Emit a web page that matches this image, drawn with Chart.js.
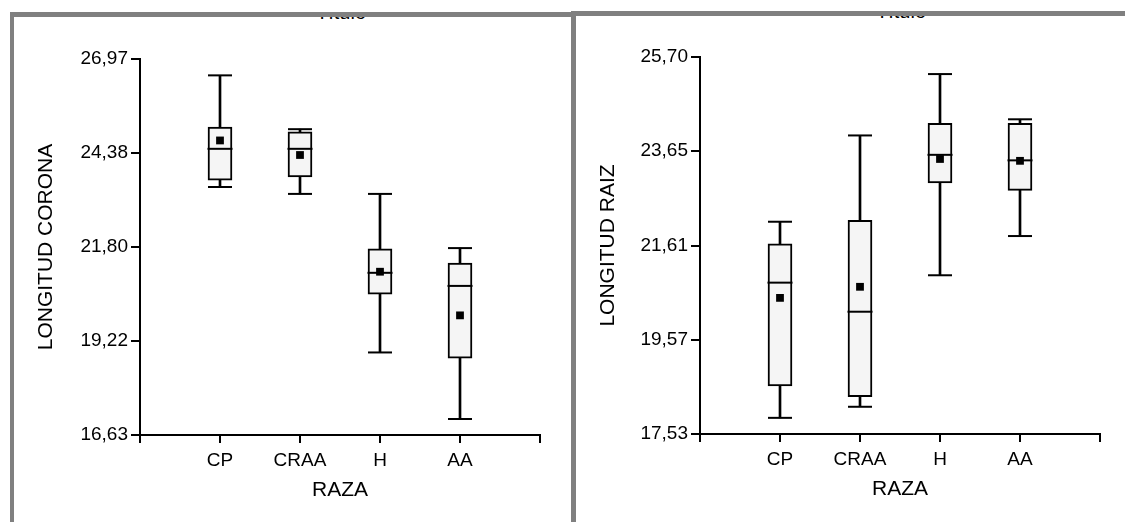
<!DOCTYPE html>
<html>
<head>
<meta charset="utf-8">
<script src="https://cdn.jsdelivr.net/npm/chart.js@4.4.1/dist/chart.umd.min.js"></script>
<style>
  html, body { margin: 0; padding: 0; background: #fff; overflow: hidden; }
  body { width: 1125px; height: 522px; position: relative; font-family: "Liberation Sans", Arial, sans-serif; }
  .panel { position: absolute; overflow: hidden; border-style: solid; border-color: #808080; }
  #p1 { left: 10px; top: 12px; width: 557px; height: 505px; border-width: 5px 5px 0 4px; }
  #p2 { left: 571px; top: 11px; width: 565px; height: 506px; border-width: 5px 0 0 0; }
  .ttl { position: absolute; top: -15px; width: 100px; font-size: 20px; line-height: 20px; text-align: center; color: #000; }
  canvas { position: absolute; top: 0; }
</style>
</head>
<body>
<div class="panel" id="p1">
  <div class="ttl" style="left:277px">Título</div>
  <canvas id="c1" width="557" height="505" style="left:0"></canvas>
</div>
<div class="panel" id="p2">
  <div class="ttl" style="left:280px">Título</div>
  <canvas id="c2" width="549" height="506" style="left:5px"></canvas>
</div>
<script>
// categorias (eje X)
const categories = ['CP', 'CRAA', 'H', 'AA'];

// LONGITUD CORONA
const coronaMin  = [23.45, 23.26, 18.90, 17.07];
const coronaQ1   = [23.64, 23.73, 20.50, 18.74];
const coronaMed  = [24.50, 24.50, 21.09, 20.73];
const coronaQ3   = [25.10, 24.97, 21.75, 21.36];
const coronaMax  = [26.52, 25.04, 23.26, 21.77];
const coronaMean = [24.73, 24.33, 21.12, 19.92];
const coronaTicks  = [16.63, 19.215, 21.80, 24.385, 26.97];
const coronaLabels = ['16,63', '19,22', '21,80', '24,38', '26,97'];

// LONGITUD RAIZ
const raizMin  = [17.88, 18.12, 20.97, 21.82];
const raizQ1   = [18.57, 18.34, 22.97, 22.81];
const raizMed  = [20.81, 20.18, 23.58, 23.46];
const raizQ3   = [21.65, 22.16, 24.26, 24.26];
const raizMax  = [22.13, 24.00, 25.33, 24.35];
const raizMean = [20.48, 20.72, 23.49, 23.45];
const raizTicks  = [17.53, 19.5725, 21.615, 23.6575, 25.70];
const raizLabels = ['17,53', '19,57', '21,61', '23,65', '25,70'];

Chart.defaults.font.family = "'Liberation Sans', Arial, sans-serif";
Chart.defaults.color = '#000';

function boxChart(id, s, yTicks, yLabels, yTitle, lay) {
  const pts = arr => arr.map((v, i) => ({ x: i + 1, y: v }));
  const rng = (a, b) => a.map((v, i) => ({ x: i + 1, y: [v, b[i]] }));

  return new Chart(document.getElementById(id), {
    type: 'bar',
    data: {
      datasets: [
        // bigote
        { type: 'bar', data: rng(s.min, s.max), backgroundColor: '#000', barThickness: 2, grouped: false, order: 4 },
        // caja
        { type: 'bar', data: rng(s.q1, s.q3), backgroundColor: '#f5f5f5', borderColor: '#000', borderWidth: 2,
          borderSkipped: false, barThickness: 24, grouped: false, order: 3 },
        // extremos
        { type: 'line', data: pts(s.min).concat(pts(s.max)), showLine: false, pointStyle: 'line', pointRadius: 12,
          pointBorderColor: '#000', pointBorderWidth: 2, order: 2 },
        // mediana
        { type: 'line', data: pts(s.med), showLine: false, pointStyle: 'line', pointRadius: 12.5,
          pointBorderColor: '#000', pointBorderWidth: 2, order: 1 },
        // media
        { type: 'line', data: pts(s.mean), showLine: false, pointStyle: 'rect', pointRadius: 5.5,
          pointBackgroundColor: '#000', pointBorderColor: '#000', pointBorderWidth: 0, order: 0 }
      ]
    },
    options: {
      responsive: false,
      animation: false,
      devicePixelRatio: 1,
      layout: { padding: { top: lay.top, right: lay.right, left: 0, bottom: 0 } },
      plugins: { legend: { display: false }, tooltip: { enabled: false } },
      scales: {
        x: {
          type: 'linear', min: 0, max: 5, offset: false,
          ticks: { stepSize: 1, autoSkip: false, padding: 6, maxRotation: 0, font: { size: 19 },
                   callback: v => categories[v - 1] || '' },
          grid: { drawOnChartArea: false, color: '#000', tickColor: '#000', lineWidth: 2, tickLength: 8, offset: false },
          border: { color: '#000', width: 2 },
          title: { display: true, text: 'RAZA', font: { size: 21 }, padding: { top: 0, bottom: lay.xtp } },
          afterFit: sc => { sc.height = lay.xh; }
        },
        y: {
          type: 'linear', min: yTicks[0], max: yTicks[yTicks.length - 1],
          afterBuildTicks: sc => { sc.ticks = yTicks.map(v => ({ value: v })); },
          ticks: { padding: 3, font: { size: 19 }, callback: (v, i) => yLabels[i] },
          grid: { drawOnChartArea: false, color: '#000', tickColor: '#000', lineWidth: 2, tickLength: 9 },
          border: { color: '#000', width: 2 },
          title: { display: true, text: yTitle, font: { size: 21 }, padding: { top: 20, bottom: 0 } },
          afterFit: sc => { sc.width = lay.yw; }
        }
      }
    }
  });
}

boxChart('c1',
  { min: coronaMin, q1: coronaQ1, med: coronaMed, q3: coronaQ3, max: coronaMax, mean: coronaMean },
  coronaTicks, coronaLabels, 'LONGITUD CORONA',
  { top: 42, right: 31, yw: 126, xh: 87, xtp: 19 });

boxChart('c2',
  { min: raizMin, q1: raizQ1, med: raizMed, q3: raizQ3, max: raizMax, mean: raizMean },
  raizTicks, raizLabels, 'LONGITUD RAIZ',
  { top: 41, right: 25, yw: 124, xh: 88, xtp: 20 });
</script>
</body>
</html>
